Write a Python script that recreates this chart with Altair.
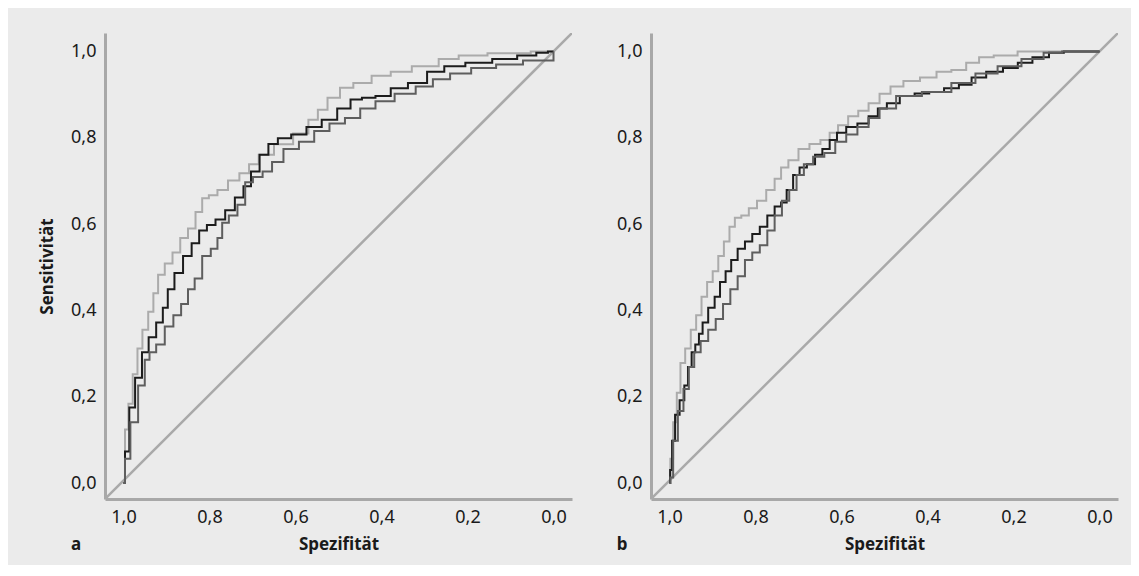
import altair as alt
import pandas as pd

# ---------------- data ----------------
# Panel a
a_light_x = [1.0, 0.993, 0.984, 0.973, 0.962, 0.950, 0.935, 0.926, 0.913, 0.895, 0.877, 0.859, 0.841, 0.824, 0.810, 0.793, 0.770, 0.744, 0.717, 0.699, 0.672, 0.628, 0.583, 0.557, 0.539, 0.512, 0.481, 0.450, 0.396, 0.361, 0.298, 0.236, 0.205, 0.102, 0.004, 0.0]
a_light_y = [0.0, 0.124, 0.184, 0.252, 0.312, 0.355, 0.397, 0.440, 0.483, 0.509, 0.534, 0.568, 0.590, 0.628, 0.660, 0.667, 0.679, 0.701, 0.718, 0.739, 0.761, 0.785, 0.810, 0.842, 0.865, 0.893, 0.916, 0.927, 0.944, 0.953, 0.966, 0.983, 0.991, 0.996, 1.0, 1.0]

a_dark_x = [1.0, 0.993, 0.980, 0.966, 0.948, 0.935, 0.913, 0.904, 0.890, 0.873, 0.850, 0.833, 0.815, 0.797, 0.775, 0.752, 0.730, 0.712, 0.695, 0.672, 0.654, 0.628, 0.592, 0.557, 0.521, 0.485, 0.459, 0.432, 0.396, 0.361, 0.316, 0.272, 0.236, 0.174, 0.111, 0.058, 0.022, 0.004, 0.0]
a_dark_y = [0.0, 0.073, 0.175, 0.244, 0.303, 0.338, 0.372, 0.406, 0.449, 0.487, 0.526, 0.556, 0.585, 0.598, 0.611, 0.632, 0.662, 0.688, 0.722, 0.761, 0.786, 0.799, 0.808, 0.825, 0.842, 0.868, 0.889, 0.893, 0.897, 0.915, 0.927, 0.953, 0.966, 0.974, 0.983, 0.991, 0.997, 1.0, 1.0]

a_mid_x = [1.0, 0.993, 0.975, 0.957, 0.944, 0.935, 0.913, 0.895, 0.873, 0.859, 0.841, 0.828, 0.806, 0.788, 0.775, 0.766, 0.744, 0.726, 0.708, 0.690, 0.663, 0.646, 0.610, 0.574, 0.539, 0.503, 0.467, 0.432, 0.396, 0.343, 0.298, 0.263, 0.218, 0.165, 0.102, 0.040, 0.0, 0.0]
a_mid_y = [0.0, 0.056, 0.141, 0.226, 0.286, 0.303, 0.321, 0.363, 0.389, 0.415, 0.449, 0.474, 0.526, 0.543, 0.568, 0.603, 0.620, 0.645, 0.697, 0.709, 0.722, 0.744, 0.774, 0.791, 0.816, 0.833, 0.846, 0.868, 0.885, 0.902, 0.919, 0.936, 0.949, 0.962, 0.970, 0.979, 0.979, 1.0]

# Panel b
b_light_x = [1.0, 0.996, 0.987, 0.979, 0.970, 0.957, 0.944, 0.932, 0.919, 0.906, 0.893, 0.880, 0.867, 0.854, 0.842, 0.824, 0.807, 0.786, 0.764, 0.747, 0.734, 0.713, 0.687, 0.662, 0.636, 0.619, 0.597, 0.572, 0.550, 0.524, 0.499, 0.473, 0.439, 0.396, 0.362, 0.327, 0.293, 0.267, 0.225, 0.156, 0.096, 0.0]
b_light_y = [0.0, 0.056, 0.141, 0.209, 0.278, 0.312, 0.355, 0.389, 0.432, 0.466, 0.491, 0.526, 0.560, 0.594, 0.615, 0.620, 0.637, 0.654, 0.679, 0.705, 0.731, 0.748, 0.774, 0.786, 0.795, 0.812, 0.829, 0.850, 0.863, 0.880, 0.902, 0.919, 0.932, 0.940, 0.953, 0.957, 0.974, 0.987, 0.991, 1.0, 1.0, 1.0]

b_dark_x = [1.0, 0.997, 0.991, 0.983, 0.970, 0.961, 0.953, 0.944, 0.936, 0.927, 0.919, 0.901, 0.889, 0.876, 0.863, 0.850, 0.833, 0.816, 0.799, 0.781, 0.764, 0.747, 0.734, 0.721, 0.704, 0.691, 0.670, 0.653, 0.636, 0.619, 0.602, 0.576, 0.550, 0.524, 0.507, 0.482, 0.447, 0.413, 0.379, 0.344, 0.310, 0.285, 0.242, 0.207, 0.173, 0.139, 0.096, 0.070, 0.0]
b_dark_y = [0.0, 0.030, 0.098, 0.158, 0.192, 0.226, 0.269, 0.303, 0.321, 0.346, 0.372, 0.406, 0.432, 0.466, 0.491, 0.517, 0.543, 0.560, 0.577, 0.594, 0.620, 0.641, 0.650, 0.679, 0.714, 0.731, 0.739, 0.761, 0.774, 0.795, 0.812, 0.825, 0.833, 0.850, 0.868, 0.880, 0.897, 0.903, 0.906, 0.915, 0.923, 0.940, 0.953, 0.962, 0.974, 0.987, 0.997, 1.0, 1.0]

b_mid_x = [1.0, 0.996, 0.987, 0.974, 0.961, 0.949, 0.936, 0.919, 0.901, 0.884, 0.867, 0.850, 0.833, 0.816, 0.799, 0.781, 0.764, 0.747, 0.730, 0.713, 0.696, 0.679, 0.653, 0.627, 0.602, 0.576, 0.550, 0.524, 0.499, 0.447, 0.379, 0.310, 0.267, 0.207, 0.156, 0.104, 0.070, 0.0]
b_mid_y = [0.0, 0.013, 0.098, 0.167, 0.218, 0.269, 0.303, 0.329, 0.355, 0.380, 0.415, 0.449, 0.479, 0.517, 0.534, 0.551, 0.585, 0.620, 0.654, 0.679, 0.714, 0.739, 0.756, 0.765, 0.791, 0.808, 0.825, 0.846, 0.868, 0.897, 0.906, 0.927, 0.949, 0.966, 0.983, 0.997, 1.0, 1.0]

# reference diagonal (corner to corner of the plot area)
diag_x = [1.043, -0.043]
diag_y = [-0.037, 1.043]

tick_values = [0.0, 0.2, 0.4, 0.6, 0.8, 1.0]
x_domain = [-0.043, 1.043]
y_domain = [-0.037, 1.043]

series_names = ["light", "dark", "mid"]
series_colors = ["#ababab", "#1c1c1c", "#5e5e5e"]

FONT = "Noto Sans"
W, H = 467, 466


def frame(xs_list, ys_list):
    rows = []
    for name, xs, ys in zip(series_names, xs_list, ys_list):
        for i, (x, y) in enumerate(zip(xs, ys)):
            rows.append({"series": name, "i": i, "spec": x, "sens": y})
    return pd.DataFrame(rows)


label_expr = "replace(format(datum.value, '.1f'), '.', ',')"


def panel(df, letter, show_ytitle):
    xenc = alt.X(
        "spec:Q",
        scale=alt.Scale(domain=x_domain, reverse=True, nice=False, zero=False),
        axis=alt.Axis(values=tick_values, labelExpr=label_expr, title="Spezifität",
                      titlePadding=10),
    )
    yaxis = alt.Axis(values=tick_values, labelExpr=label_expr,
                     title="Sensitivität" if show_ytitle else "",
                     titlePadding=14)
    yenc = alt.Y("sens:Q", scale=alt.Scale(domain=y_domain, nice=False, zero=False), axis=yaxis)

    diag = alt.Chart(pd.DataFrame({"spec": diag_x, "sens": diag_y})).mark_line(
        color="#a9a9a9", strokeWidth=2.5, clip=True
    ).encode(x=xenc, y=yenc)

    curves = alt.Chart(df).mark_line(interpolate="step", strokeWidth=2, clip=True).encode(
        x=alt.X("spec:Q", scale=alt.Scale(domain=x_domain, reverse=True, nice=False, zero=False)),
        y=alt.Y("sens:Q", scale=alt.Scale(domain=y_domain, nice=False, zero=False)),
        color=alt.Color("series:N", scale=alt.Scale(domain=series_names, range=series_colors), legend=None),
        order="i:Q",
        detail="series:N",
    )

    tag = alt.Chart(pd.DataFrame({"t": [letter]})).mark_text(
        font=FONT, fontSize=17, fontWeight="bold", color="#1a1a1a", baseline="middle", align="center"
    ).encode(x=alt.value(-29), y=alt.value(H + 46), text="t:N")

    return alt.layer(diag, curves, tag).properties(width=W, height=H)


pa = panel(frame([a_light_x, a_dark_x, a_mid_x], [a_light_y, a_dark_y, a_mid_y]), "a", True)
pb = panel(frame([b_light_x, b_dark_x, b_mid_x], [b_light_y, b_dark_y, b_mid_y]), "b", False)

chart = alt.hconcat(pa, pb, spacing=79, bounds="flush").properties(
    background="#ebebeb",
    padding={"left": 30, "top": 25, "right": 13, "bottom": 12},
).configure_view(strokeWidth=0).configure_axis(
    domainColor="#a8a8a8",
    domainWidth=3,
    ticks=False,
    grid=False,
    labelFont=FONT,
    labelFontSize=18,
    labelColor="#1a1a1a",
    labelPadding=9,
    titleFont=FONT,
    titleFontSize=17,
    titleFontWeight="bold",
    titleColor="#1a1a1a",
)

chart.save("out.html", embed_options={"renderer": "svg", "actions": False})
